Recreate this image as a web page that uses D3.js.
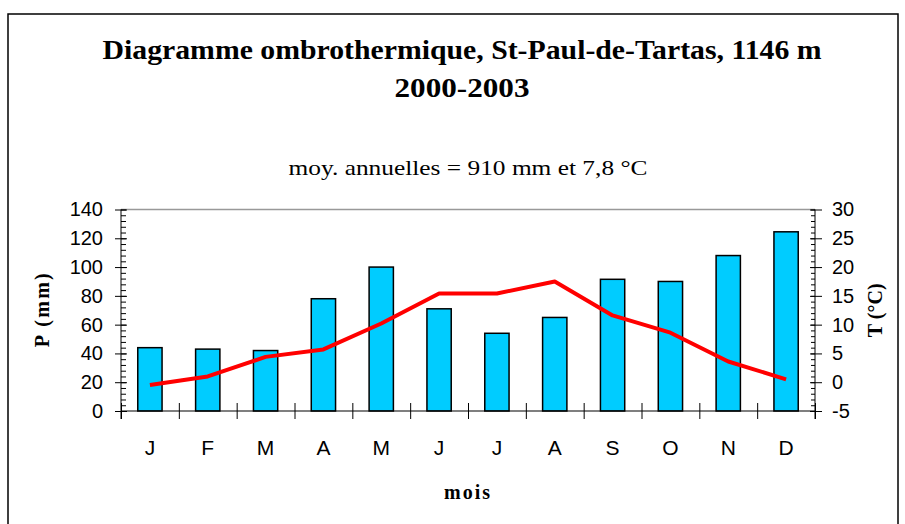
<!DOCTYPE html>
<html>
<head>
<meta charset="utf-8">
<script src="https://cdn.jsdelivr.net/npm/d3@7"></script>
<style>
  body { margin: 0; background: #fff; }
  svg { display: block; }
  .serif { font-family: "Liberation Serif", "Times New Roman", serif; }
  .sans { font-family: "Liberation Sans", Arial, sans-serif; }
</style>
</head>
<body>
<div id="chart"></div>
<script>
// Data
var months = ["J", "F", "M", "A", "M", "J", "J", "A", "S", "O", "N", "D"];
var precip = [44, 43, 42, 78, 100, 71, 54, 65, 91.5, 90, 108, 124.5];   // mm
var temp = [-0.5, 1.0, 4.4, 5.7, 10.2, 15.4, 15.4, 17.5, 11.6, 8.6, 3.6, 0.5]; // °C
var pTicks = [0, 20, 40, 60, 80, 100, 120, 140];
var tTicks = [-5, 0, 5, 10, 15, 20, 25, 30];
var pMinor = d3.range(0, 141, 4);
var tMinor = d3.range(-5, 31, 1);

var W = 905, H = 524;
// plot area edges (window.top is read-only, so avoid that name)
var plotL = 121, plotR = 815, plotT = 209.5, plotB = 411;

var svg = d3.select("#chart").append("svg")
    .attr("width", W)
    .attr("height", H);

// outer frame
svg.append("rect")
    .attr("x", 8).attr("y", 14)
    .attr("width", 890).attr("height", 530)
    .attr("fill", "none")
    .attr("stroke", "#000")
    .attr("stroke-width", 1.5);

// Scales
var x = d3.scaleBand()
    .domain(d3.range(months.length))
    .range([plotL, plotR])
    .paddingInner(0.58)
    .paddingOuter(0.29);
var xEdge = d3.scaleLinear().domain([0, months.length]).range([plotL, plotR]);
var yP = d3.scaleLinear().domain([0, 140]).range([plotB, plotT]);
var yT = d3.scaleLinear().domain([-5, 30]).range([plotB, plotT]);

// Titles
var title = svg.append("g").attr("class", "serif").attr("font-weight", "bold");
title.append("text")
    .attr("x", 462).attr("y", 59)
    .attr("text-anchor", "middle")
    .attr("font-size", 28)
    .attr("textLength", 719)
    .attr("lengthAdjust", "spacingAndGlyphs")
    .text("Diagramme ombrothermique, St-Paul-de-Tartas, 1146 m");
title.append("text")
    .attr("x", 462).attr("y", 97)
    .attr("text-anchor", "middle")
    .attr("font-size", 28)
    .attr("textLength", 135)
    .attr("lengthAdjust", "spacingAndGlyphs")
    .text("2000-2003");

svg.append("text")
    .attr("class", "serif")
    .attr("x", 468).attr("y", 175)
    .attr("text-anchor", "middle")
    .attr("font-size", 22)
    .attr("textLength", 359)
    .attr("lengthAdjust", "spacingAndGlyphs")
    .text("moy. annuelles = 910 mm et 7,8 °C");

// top border of plot area
svg.append("line")
    .attr("x1", plotL).attr("x2", plotR)
    .attr("y1", plotT).attr("y2", plotT)
    .attr("stroke", "#999")
    .attr("stroke-width", 1.5);

// Bars
svg.append("g")
    .selectAll("rect")
    .data(precip)
  .enter().append("rect")
    .attr("x", function(d, i){ return x(i); })
    .attr("y", function(d){ return yP(d); })
    .attr("width", x.bandwidth())
    .attr("height", function(d){ return yP(0) - yP(d); })
    .attr("fill", "#00ccff")
    .attr("stroke", "#000")
    .attr("stroke-width", 1.5);

// Temperature line
var line = d3.line()
    .x(function(d, i){ return x(i) + x.bandwidth() / 2; })
    .y(function(d){ return yT(d); });
svg.append("path")
    .datum(temp)
    .attr("d", line)
    .attr("fill", "none")
    .attr("stroke", "#ff0000")
    .attr("stroke-width", 4)
    .attr("stroke-linejoin", "round");

var plain = function(d){ return String(d); }; // keep the hyphen-minus as in the original

// Left axis
var gL = svg.append("g")
    .attr("class", "sans")
    .attr("transform", "translate(" + plotL + ",0)");
gL.call(d3.axisLeft(yP).tickValues(pMinor).tickSize(-5).tickFormat(""));
gL.append("g").call(d3.axisLeft(yP).tickValues(pTicks).tickSize(6).tickPadding(12).tickFormat(plain))
    .call(function(g){ g.selectAll(".tick line").attr("x1", 6); });
gL.selectAll("text").attr("font-size", 20).attr("fill", "#000").attr("font-family", "Liberation Sans, Arial, sans-serif");
gL.selectAll("path.domain").remove();
gL.append("line").attr("y1", plotT).attr("y2", plotB + 8).attr("stroke", "#000");

// Right axis
var gR = svg.append("g")
    .attr("class", "sans")
    .attr("transform", "translate(" + plotR + ",0)");
gR.call(d3.axisRight(yT).tickValues(tMinor).tickSize(-4).tickFormat(""));
gR.append("g").call(d3.axisRight(yT).tickValues(tTicks).tickSize(7).tickPadding(10).tickFormat(plain))
    .call(function(g){ g.selectAll(".tick line").attr("x1", -5); });
gR.selectAll("text").attr("font-size", 20).attr("fill", "#000").attr("font-family", "Liberation Sans, Arial, sans-serif");
gR.selectAll("path.domain").remove();
gR.append("line").attr("y1", plotT).attr("y2", plotB + 8).attr("stroke", "#000");

// Bottom axis: category boundary ticks and month labels
var gB = svg.append("g").attr("transform", "translate(0," + plotB + ")");
gB.call(d3.axisBottom(xEdge).tickValues(d3.range(0, months.length + 1)).tickSize(8).tickFormat(""))
    .call(function(g){ g.selectAll(".tick line").attr("y1", -8); });
gB.select("path.domain").remove();
gB.append("line").attr("x1", plotL).attr("x2", plotR).attr("stroke", "#000").attr("stroke-width", 1.2);

var gM = svg.append("g").attr("transform", "translate(0," + plotB + ")");
gM.call(d3.axisBottom(x).tickSize(0).tickPadding(29).tickFormat(function(i){ return months[i]; }));
gM.select("path.domain").remove();
gM.selectAll("text").attr("font-size", 21).attr("fill", "#000").attr("font-family", "Liberation Sans, Arial, sans-serif");

// Axis titles
svg.append("text")
    .attr("class", "serif")
    .attr("font-weight", "bold")
    .attr("font-size", 20)
    .attr("text-anchor", "middle")
    .attr("textLength", 74)
    .attr("lengthAdjust", "spacing")
    .attr("transform", "translate(49," + (plotT + plotB) / 2 + ") rotate(-90)")
    .text("P (mm)");
svg.append("text")
    .attr("class", "serif")
    .attr("font-weight", "bold")
    .attr("font-size", 20)
    .attr("text-anchor", "middle")
    .attr("transform", "translate(882," + (plotT + plotB) / 2 + ") rotate(-90)")
    .text("T (°C)");
svg.append("text")
    .attr("class", "serif")
    .attr("font-weight", "bold")
    .attr("font-size", 20)
    .attr("text-anchor", "middle")
    .attr("textLength", 46)
    .attr("lengthAdjust", "spacing")
    .attr("x", 467).attr("y", 499)
    .text("mois");
</script>
</body>
</html>
